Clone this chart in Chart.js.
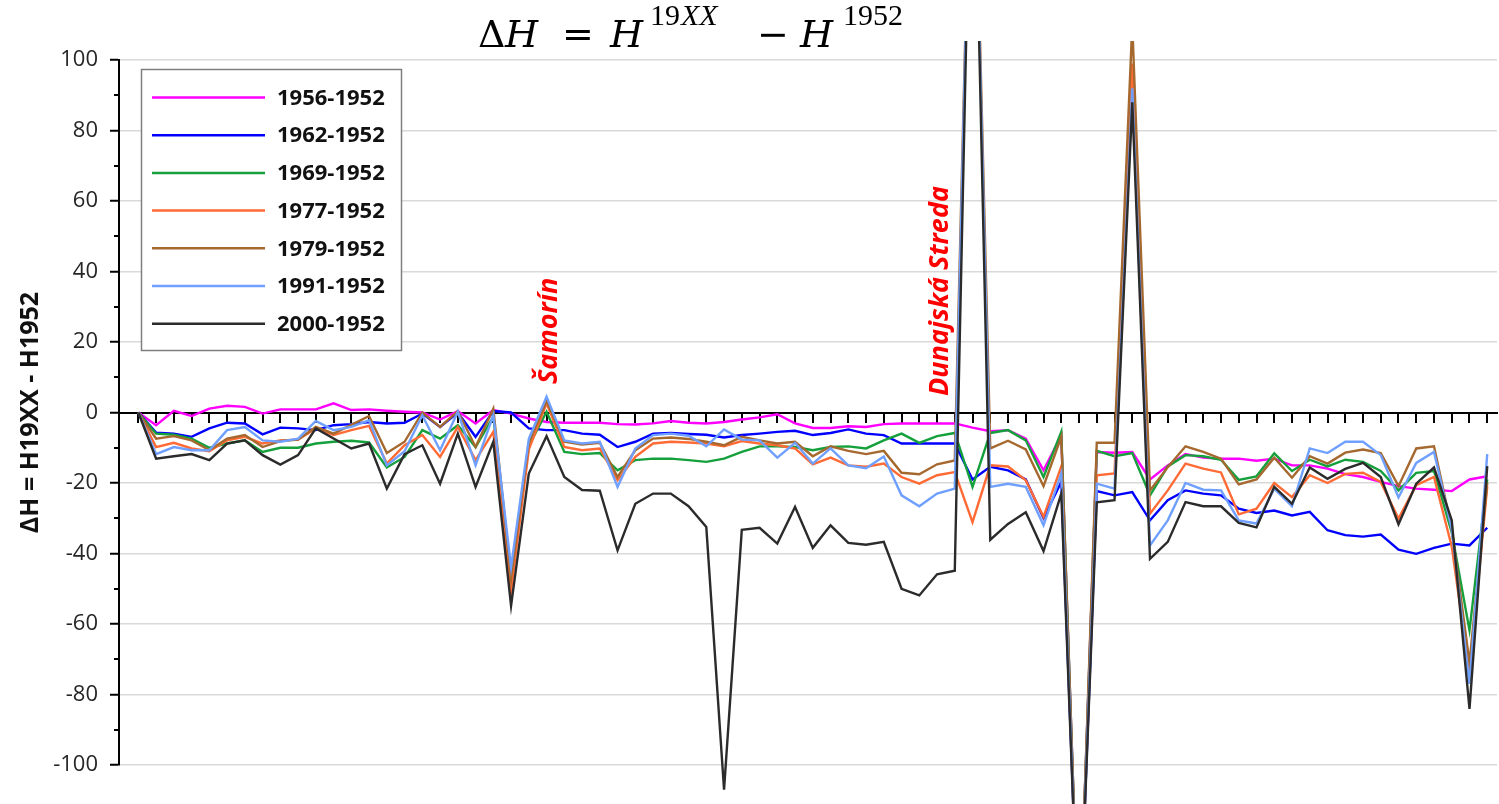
<!DOCTYPE html>
<html>
<head>
<meta charset="utf-8">
<script src="https://cdn.jsdelivr.net/npm/chart.js@4.4.0/dist/chart.umd.min.js"></script>
<style>
  html, body { margin: 0; padding: 0; background: #fff; }
  #wrap { width: 1499px; height: 804px; }
</style>
</head>
<body>
<div id="wrap"><canvas id="dh-chart"></canvas></div>
<script>
// Stations along the profile (one point per station)
const stations = [1, 2, 3, 4, 5, 6, 7, 8, 9, 10, 11, 12, 13, 14, 15, 16, 17, 18, 19, 20,
  21, 22, 23, 24, 25, 26, 27, 28, 29, 30, 31, 32, 33, 34, 35, 36, 37, 38, 39, 40,
  41, 42, 43, 44, 45, 46, 47, 48, 49, 50, 51, 52, 53, 54, 55, 56, 57, 58, 59, 60,
  61, 62, 63, 64, 65, 66, 67, 68, 69, 70, 71, 72, 73, 74, 75, 76, 77];

const seriesNames = ['1956-1952', '1962-1952', '1969-1952', '1977-1952', '1979-1952', '1991-1952', '2000-1952'];

const d1956 = [0, -3.6, 0.5, -1.0, 1.1, 1.9, 1.6, -0.3, 0.9, 0.9, 0.9, 2.6, 0.7, 0.9, 0.5, 0.2, 0, -2.0, 0.4, -3.1,
  0.7, -0.3, -1.7, -2.7, -2.9, -2.9, -2.9, -3.3, -3.4, -3.1, -2.4, -2.9, -3.1, -2.7, -2.0, -1.4, -0.5, -3.1, -4.4, -4.4,
  -3.9, -4.1, -3.3, -3.1, -3.1, -3.1, -3.1, -4.3, -5.3, -5.0, -7.4, -16.4, -6.5, -155, -11.2, -11.4, -11.2, -19.0, -15.0, -11.8,
  -12.8, -13.1, -13.1, -13.7, -13.1, -15.0, -15.0, -15.9, -17.5, -18.3, -19.7, -20.9, -21.6, -21.9, -22.3, -19.0, -18.1];

const d1962 = [0, -5.7, -6.0, -6.9, -4.5, -2.9, -3.1, -6.2, -4.3, -4.5, -5.0, -3.6, -3.3, -2.7, -3.1, -2.9, -0.3, -4.1, 0, -6.9,
  0.4, 0, -4.5, -5.0, -5.0, -6.0, -6.3, -9.8, -8.3, -6.0, -5.8, -6.1, -6.3, -7.1, -6.4, -6.0, -5.5, -5.2, -6.4, -5.8,
  -4.8, -6.0, -6.4, -8.8, -8.8, -8.8, -8.8, -19.0, -15.4, -16.4, -19.0, -30.0, -19.7, -155, -22.3, -23.5, -22.6, -30.6, -24.9, -22.1,
  -23.0, -23.5, -27.3, -28.5, -27.8, -29.2, -28.2, -33.4, -34.8, -35.2, -34.6, -38.9, -40.1, -38.4, -37.2, -37.7, -32.7];

const d1969 = [0, -6.0, -6.3, -7.4, -10.0, -8.8, -7.9, -11.2, -10.0, -10.0, -8.8, -8.3, -8.0, -8.5, -15.6, -12.6, -5.0, -7.4, -3.6, -9.8,
  -1.2, -46, -9.5, 0.2, -11.2, -11.8, -11.5, -16.4, -13.5, -13.1, -13.1, -13.5, -14.0, -13.1, -11.2, -9.6, -9.6, -9.8, -10.7, -9.8,
  -9.6, -10.2, -7.9, -6.0, -8.6, -6.7, -5.8, -21.1, -5.8, -5.0, -7.9, -18.3, -5.5, -155, -10.9, -12.4, -11.5, -23.5, -15.3, -12.1,
  -12.4, -13.4, -19.1, -18.1, -11.6, -16.6, -13.4, -15.3, -13.4, -14.0, -16.6, -22.1, -17.1, -16.6, -34, -61.8, -19];

const d1977 = [0, -9.8, -8.6, -10.2, -11.0, -7.9, -6.9, -8.8, -7.9, -7.7, -4.5, -6.4, -5.0, -3.8, -14.5, -9.3, -6.4, -12.6, -4.1, -13.5,
  -5.5, -50.5, -10.5, 2.6, -9.8, -10.7, -10.2, -19.2, -12.6, -8.8, -8.3, -8.5, -8.8, -9.6, -8.1, -8.8, -9.3, -10.2, -14.7, -12.8,
  -15.0, -15.4, -14.5, -18.3, -20.2, -17.8, -16.9, -31.1, -15.0, -15.3, -19.2, -29.6, -15.3, -155, -17.8, -17.3, 99, -28.7, -22.1, -14.5,
  -15.9, -17.0, -28.9, -27.3, -20.0, -24.0, -17.8, -20.0, -17.4, -17.1, -19.7, -30.1, -20.6, -18.3, -38, -74, -21];

const d1979 = [0, -7.4, -6.7, -7.9, -10.7, -7.4, -6.4, -9.8, -8.1, -7.7, -4.1, -6.0, -3.5, -1.0, -11.5, -8.3, 0, -4.1, 0.4, -9.8,
  1.1, -47, -8.5, 3.3, -8.3, -9.1, -8.6, -18.3, -10.7, -7.4, -7.1, -7.5, -8.3, -9.3, -6.9, -7.9, -8.8, -8.3, -12.4, -9.6,
  -10.9, -11.8, -10.9, -17.1, -17.5, -14.7, -13.6, 190, -10.2, -8.0, -10.5, -20.9, -6.9, -155, -8.6, -8.6, 110, -22.1, -15.5, -9.6,
  -11.2, -13.1, -20.4, -19.0, -12.8, -18.5, -12.4, -14.5, -11.4, -10.5, -11.5, -20.9, -10.2, -9.6, -33, -71, -20];

const d1991 = [0, -11.8, -9.8, -10.7, -10.7, -5.0, -4.1, -7.9, -8.3, -7.4, -2.4, -5.0, -4.1, -2.2, -15.0, -11.0, -0.8, -10.7, 0.2, -15.0,
  -0.8, -43.9, -7.5, 4.5, -7.9, -8.8, -8.3, -21.1, -10.2, -6.4, -6.0, -6.6, -9.6, -4.8, -7.7, -7.9, -12.8, -8.6, -14.5, -10.2,
  -15.0, -15.8, -12.5, -23.5, -26.6, -23.0, -21.6, 190, -21.1, -20.2, -21.1, -32.0, -17.3, -155, -20.2, -21.6, 92, -37.7, -30.6, -20.0,
  -21.9, -22.1, -30.6, -31.5, -21.6, -26.6, -10.2, -11.5, -8.3, -8.3, -12.1, -24.1, -14.3, -11.2, -33, -77, -11.8];

const d2000 = [0, -13.1, -12.4, -11.8, -13.5, -8.8, -7.9, -12.1, -14.8, -12.1, -4.5, -7.4, -10.2, -8.8, -21.6, -11.8, -9.3, -20.2, -6.0, -21.1,
  -8.3, -54.8, -17.3, -6.7, -18.3, -22.0, -22.2, -39.1, -25.9, -23.0, -23.0, -26.6, -32.5, -107, -33.3, -32.7, -37.2, -26.8, -38.4, -32.0,
  -37.0, -37.5, -36.7, -50.0, -51.9, -45.9, -44.9, 190, -36.1, -31.6, -28.3, -39.3, -23.0, -155, -25.5, -24.9, 88, -41.5, -36.7, -25.4,
  -26.6, -26.6, -31.3, -32.6, -21.1, -25.9, -15.6, -18.8, -16.0, -14.3, -18.3, -31.7, -20.2, -15.6, -30.6, -84.1, -15.2];

const seriesColors = ['#ff00ff', '#0000ff', '#15a03c', '#ff6a35', '#a5682e', '#6fa0ff', '#2b2b2b'];

// Red place names on the profile
const places = [
  { name: 'Šamorín', station: 24, dx: 3, y: 384 },
  { name: 'Dunajská Streda', station: 47, dx: -14, y: 396 }
];

const allData = [d1956, d1962, d1969, d1977, d1979, d1991, d2000];

const datasets = allData.map(function (vals, i) {
  return {
    label: seriesNames[i],
    data: vals,
    borderColor: seriesColors[i],
    backgroundColor: seriesColors[i],
    borderWidth: 2.4,
    pointRadius: 0,
    tension: 0,
    order: 6 - i,
    clip: { left: 0, top: 19, right: 0, bottom: 40 }
  };
});

// minor ticks (every 10) on the y axis
const minorTicks = {
  id: 'minorTicks',
  afterDraw: function (chart) {
    const ctx = chart.ctx, y = chart.scales.y;
    ctx.save();
    ctx.strokeStyle = '#000';
    ctx.lineWidth = 2;
    y.ticks.forEach(function (t) {
      if (t.value % 20 !== 0) {
        const py = Math.round(y.getPixelForValue(t.value));
        ctx.beginPath();
        ctx.moveTo(y.right - 5, py);
        ctx.lineTo(y.right, py);
        ctx.stroke();
      }
    });
    ctx.restore();
  }
};

// boxed legend in the top left of the plot
const boxLegend = {
  id: 'boxLegend',
  afterDraw: function (chart) {
    const ctx = chart.ctx;
    ctx.save();
    ctx.fillStyle = '#fff';
    ctx.fillRect(141, 69, 260, 281);
    ctx.strokeStyle = '#7f7f7f';
    ctx.lineWidth = 1.5;
    ctx.strokeRect(141.5, 69.5, 260, 281);
    ctx.font = 'bold 22px "Open Sans"';
    ctx.textBaseline = 'middle';
    chart.data.datasets.forEach(function (ds, i) {
      const ry = 97.5 + i * 37.7;
      ctx.strokeStyle = ds.borderColor;
      ctx.lineWidth = 2.5;
      ctx.beginPath();
      ctx.moveTo(152, ry);
      ctx.lineTo(265, ry);
      ctx.stroke();
      ctx.fillStyle = '#111';
      ctx.fillText(ds.label, 277, ry + 1);
    });
    ctx.restore();
  }
};

// place names and the formula title
const textLayer = {
  id: 'textLayer',
  afterDraw: function (chart) {
    const ctx = chart.ctx, x = chart.scales.x;
    ctx.save();
    ctx.fillStyle = '#ff0000';
    ctx.font = 'italic bold 27px "Open Sans"';
    ctx.textBaseline = 'middle';
    ctx.textAlign = 'left';
    places.forEach(function (p) {
      ctx.save();
      ctx.translate(x.getPixelForValue(p.station) + p.dx, p.y);
      ctx.rotate(-Math.PI / 2);
      ctx.fillText(p.name, 0, 0);
      ctx.restore();
    });

    // ΔH = H^19XX − H^1952
    ctx.fillStyle = '#000';
    ctx.textBaseline = 'alphabetic';
    const base = 47, supBase = 25;
    const big = '38px "DejaVu Serif"', bigIt = 'italic 38px "DejaVu Serif"';
    const sm = '30px "Liberation Serif"', smIt = 'italic 30px "Liberation Serif"';
    const parts = [
      ['Δ', big, 478, base], ['H', bigIt, 505, base], ['=', big, 562, base],
      ['H', bigIt, 610, base], ['19', sm, 650, supBase], ['XX', smIt, 681, supBase],
      ['−', big, 757, base], ['H', bigIt, 800, base], ['1952', sm, 843, supBase]
    ];
    parts.forEach(function (p) {
      ctx.font = p[1];
      ctx.fillText(p[0], p[2], p[3]);
    });
    ctx.restore();
  }
};

const ctx = document.getElementById('dh-chart');

new Chart(ctx, {
  type: 'line',
  data: { labels: stations, datasets: datasets },
  options: {
    responsive: true,
    maintainAspectRatio: false,
    animation: false,
    devicePixelRatio: 1,
    layout: { padding: { top: 60, right: 2, bottom: 39, left: 16 } },
    plugins: { legend: { display: false }, tooltip: { enabled: false } },
    scales: {
      x: {
        type: 'linear',
        position: { y: 0 },
        min: -0.09,
        max: 77.55,
        afterBuildTicks: function (s) {
          s.ticks = stations.map(function (v) { return { value: v }; });
        },
        ticks: { display: false, autoSkip: false },
        grid: { drawOnChartArea: false, color: '#000', lineWidth: 2, tickLength: 9 },
        border: { color: '#000', width: 2 }
      },
      y: {
        min: -100,
        max: 100,
        afterFit: function (s) { s.width = 103; },
        ticks: {
          stepSize: 10,
          padding: 12,
          color: '#262626',
          font: { family: 'Open Sans', size: 22 },
          callback: function (v) { return v % 20 === 0 ? v : ''; }
        },
        grid: {
          lineWidth: 1.5,
          color: function (c) {
            return (c.tick && c.tick.value % 20 === 0 && c.tick.value !== 0) ? '#d9d9d9' : 'rgba(0,0,0,0)';
          },
          tickColor: function (c) {
            return (c.tick && c.tick.value % 20 === 0) ? '#000' : 'rgba(0,0,0,0)';
          },
          tickLength: 9,
          tickWidth: 2
        },
        border: { color: '#000', width: 2 },
        title: {
          display: true,
          text: 'ΔH = H19XX - H1952',
          color: '#111',
          font: { family: 'Open Sans', size: 25, weight: 'bold' },
          padding: { top: 0, bottom: 0 }
        }
      }
    }
  },
  plugins: [minorTicks, boxLegend, textLayer]
});
</script>
</body>
</html>
